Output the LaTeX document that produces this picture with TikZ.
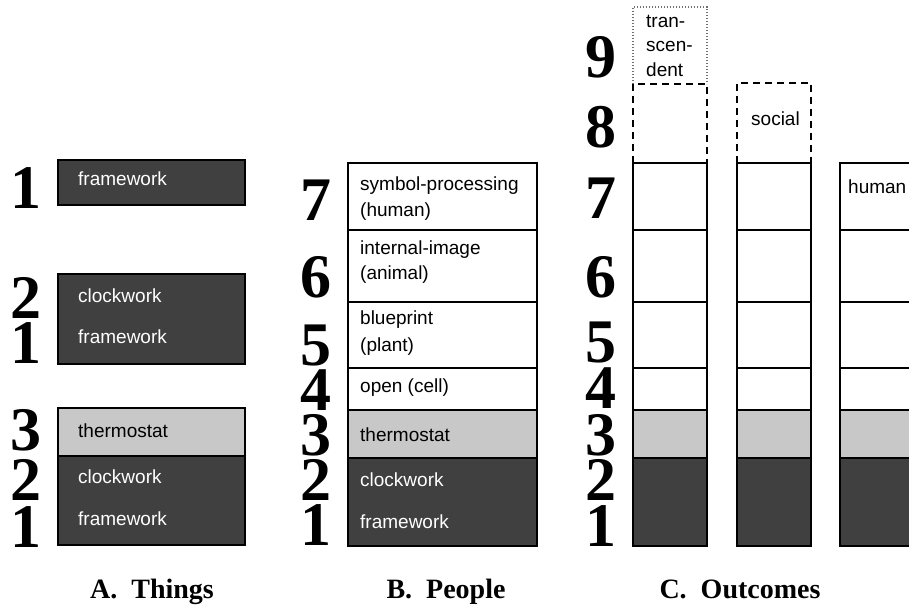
\documentclass[tikz,border=0pt]{standalone}
\usepackage{fontspec}
\setmainfont{Liberation Serif}
\newfontfamily\labelfont{Liberation Sans}
\definecolor{darkfill}{HTML}{404040}
\definecolor{lightfill}{HTML}{C8C8C8}
\definecolor{dotgray}{HTML}{707070}
\begin{document}
\begin{tikzpicture}[x=1pt,y=-1pt,
  cell/.style={draw=black,line width=1.8pt},
  darkcell/.style={cell,fill=darkfill},
  graycell/.style={cell,fill=lightfill},
  whitecell/.style={cell,fill=white},
  futurebox/.style={draw=black,line width=1.8pt,dash pattern=on 7pt off 5pt},
  farbox/.style={draw=dotgray,line width=1.3pt,dash pattern=on 1.3pt off 1.7pt},
  lvl/.style={anchor=base,inner sep=0pt,font=\fontsize{62}{62}\selectfont\bfseries},
  txt/.style={anchor=base west,inner sep=0pt,font=\labelfont\fontsize{19}{19}\selectfont},
  wtxt/.style={txt,text=white},
  caption/.style={anchor=base,inner sep=0pt,font=\fontsize{28}{28}\selectfont\bfseries},
  ]
\useasboundingbox (0,0) rectangle (909,606);
\clip (0,0) rectangle (909,606);

% ---------- A. Things ----------
\draw[darkcell] (58,160) rectangle (245,205);
\node[wtxt] (a1fw) at (78,185) {framework};
\node[lvl] (a1n1) at (26,208) {1};

\draw[darkcell] (58,274) rectangle (245,364);
\node[wtxt] (a2cw) at (78,302) {clockwork};
\node[wtxt] (a2fw) at (78,343) {framework};
\node[lvl] (a2n2) at (26,318) {2};
\node[lvl] (a2n1) at (26,363) {1};

\draw[graycell] (58,408) rectangle (245,456);
\draw[darkcell] (58,456) rectangle (245,545);
\node[txt] (a3th) at (78,437) {thermostat};
\node[wtxt] (a3cw) at (78,483) {clockwork};
\node[wtxt] (a3fw) at (78,525) {framework};
\node[lvl] (a3n3) at (26,450) {3};
\node[lvl] (a3n2) at (26,500) {2};
\node[lvl] (a3n1) at (26,547) {1};

% ---------- B. People ----------
\draw[whitecell] (348,163) rectangle (537,230);
\draw[whitecell] (348,230) rectangle (537,302);
\draw[whitecell] (348,302) rectangle (537,368);
\draw[whitecell] (348,368) rectangle (537,410);
\draw[graycell] (348,410) rectangle (537,458);
\draw[darkcell] (348,458) rectangle (537,546);
\node[txt] (b7a) at (360,190) {symbol-processing};
\node[txt] (b7b) at (360,216) {(human)};
\node[txt] (b6a) at (360,254) {internal-image};
\node[txt] (b6b) at (360,279) {(animal)};
\node[txt] (b5a) at (360,324) {blueprint};
\node[txt] (b5b) at (360,351) {(plant)};
\node[txt] (b4) at (360,392) {open (cell)};
\node[txt] (b3) at (360,441) {thermostat};
\node[wtxt] (b2) at (360,486) {clockwork};
\node[wtxt] (b1) at (360,528) {framework};
\foreach \d/\y in {7/220,6/297,5/365,4/410,3/455,2/500,1/545}
  \node[lvl] (bn\d) at (316,\y) {\d};

% ---------- C. Outcomes ----------
\foreach \c/\xl/\xr in {1/633/707,2/737/811,3/840/960}{
  \draw[whitecell] (\xl,163) rectangle (\xr,230);
  \draw[whitecell] (\xl,230) rectangle (\xr,302);
  \draw[whitecell] (\xl,302) rectangle (\xr,368);
  \draw[whitecell] (\xl,368) rectangle (\xr,410);
  \draw[graycell] (\xl,410) rectangle (\xr,458);
  \draw[darkcell] (\xl,458) rectangle (\xr,546);
}
% possible further levels above the human level
\draw[futurebox] (633,163) -- (633,84) -- (707,84) -- (707,163);
\draw[futurebox] (737,163) -- (737,83) -- (811,83) -- (811,163);
\draw[farbox] (633,84) -- (633,7) -- (707,7) -- (707,84);
\node[txt] (c9a) at (646,27) {tran-};
\node[txt] (c9b) at (646,51) {scen-};
\node[txt] (c9c) at (646,76) {dent};
\node[txt] (c8) at (751,125) {social};
\node[txt] (c7) at (848,193) {human};
\foreach \d/\y in {9/77,8/147,7/218,6/297,5/362,4/408,3/455,2/500,1/546}
  \node[lvl] (cn\d) at (601,\y) {\d};

% ---------- captions ----------
\node[caption] (capA) at (152,598) {A.\ \ Things};
\node[caption] (capB) at (446,598) {B.\ \ People};
\node[caption] (capC) at (740,598) {C.\ \ Outcomes};
\end{tikzpicture}
\end{document}
